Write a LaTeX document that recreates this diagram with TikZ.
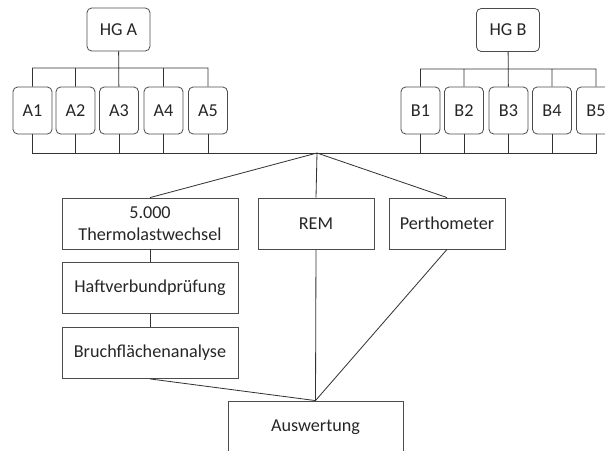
\documentclass[tikz,border=0pt]{standalone}
\usepackage{fontspec}
\setmainfont{Carlito}
\usepackage{tikz}

\begin{document}
\begin{tikzpicture}[x=0.03cm,y=-0.03cm,line width=0.7pt,
		hgbox/.style={draw=black!70,rounded corners=4pt,inner sep=0pt,minimum width=1.89cm,minimum height=1.29cm,text=black!85},
		probebox/.style={draw=black!70,rounded corners=4pt,inner sep=0pt,minimum width=1.17cm,minimum height=1.41cm,text=black!85},
		stepbox/.style={draw=black!70,inner sep=0pt,minimum height=1.53cm,align=center,text=black!85},
		every node/.style={font=\fontsize{15.5}{18.5}\selectfont}]
		\useasboundingbox (0,0) rectangle (605,451);
		
		\node (hga) at (118.5,29.5) [hgbox] {HG A};
		\node (hgb) at (508,30) [hgbox] {HG B};
		\node (a1) at (32.5,110.5) [probebox] {A1};
		\node (a2) at (75.5,110.5) [probebox] {A2};
		\node (a3) at (119,110.5) [probebox] {A3};
		\node (a4) at (163.5,110.5) [probebox] {A4};
		\node (a5) at (208,110.5) [probebox] {A5};
		\node (b1) at (420.5,110.5) [probebox] {B1};
		\node (b2) at (464,110.5) [probebox] {B2};
		\node (b3) at (508.5,110.5) [probebox] {B3};
		\node (b4) at (552,110.5) [probebox] {B4};
		\node (b5) at (596,110.5) [probebox] {B5};
		
		\node (tlw) at (150,223.5) [stepbox,minimum width=5.28cm] {5.000\\Thermolastwechsel};
		\node (haft) at (150,288) [stepbox,minimum width=5.28cm] {Haftverbundprüfung};
		\node (bruch) at (150,353) [stepbox,minimum width=5.28cm] {Bruchflächenanalyse};
		\node (rem) at (316,223.5) [stepbox,minimum width=3.48cm] {REM};
		\node (perth) at (447,223.5) [stepbox,minimum width=3.48cm] {Perthometer};
		\node (ausw) at (315.5,427) [stepbox,minimum width=5.25cm,minimum height=1.56cm] {Auswertung};
		
		\coordinate (busa) at (119,68);
		\coordinate (busb) at (508,69);
		\coordinate (hub) at (317,153);
		
		%Baum oben
		\draw[black!80] (hga) -- (a3)
			(a1.north) -- (a1.north |- busa) -- (a5.north |- busa) -- (a5.north)
			(a2.north) -- (a2.north |- busa)
			(a4.north) -- (a4.north |- busa);
		\draw[black!80] (hgb) -- (b3)
			(b1.north) -- (b1.north |- busb) -- (b5.north |- busb) -- (b5.north)
			(b2.north) -- (b2.north |- busb)
			(b4.north) -- (b4.north |- busb);
		
		%Sammelschiene
		\draw[black!80] (a1.south) -- (a1.south |- hub) -- (b5.south |- hub) -- (b5.south);
		\foreach \n in {a2,a3,a4,a5,b1,b2,b3,b4}
			\draw[black!80] (\n.south) -- (\n.south |- hub);
		
		%Pruefungen
		\draw[black!80] (hub) -- (tlw.north)
			(hub) -- (rem.north)
			(hub) -- (perth.north);
		\draw[black!80] (tlw) -- (haft) (haft) -- (bruch);
		\draw[black!80] (bruch.south) -- (ausw.north)
			(rem.south) -- (ausw.north)
			(perth.south) -- (ausw.north);
\end{tikzpicture}
\end{document}
